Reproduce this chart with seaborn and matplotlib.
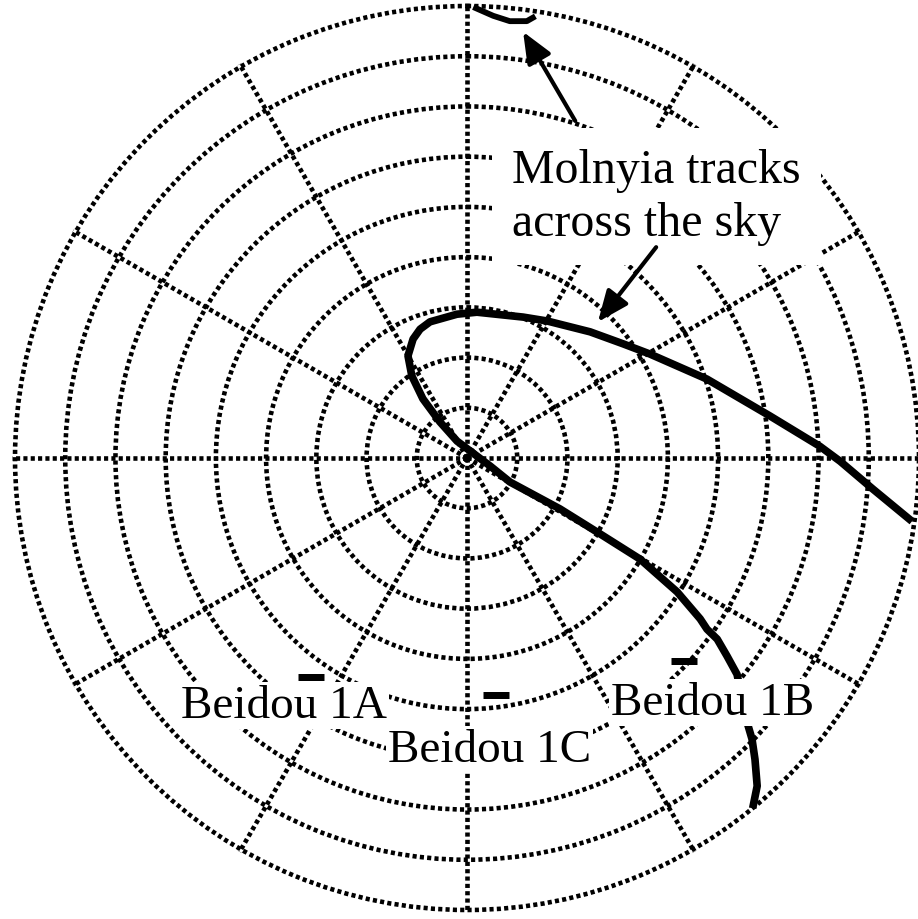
import numpy as np
import matplotlib.pyplot as plt
import seaborn as sns

# sky plot: azimuth (deg, clockwise from north) and elevation (deg)
# main Molnyia track, from the east horizon round the loop to the south-east horizon
molnyia_az = [98.1, 94.4, 90.5, 88.1, 82.1, 71.8, 60.4, 53.8, 44.3, 30.3, 21.7, 3.9,
              -4.0, -15.2, -20.0, -24.4, -30.0, -33.9, -36.7, -36.9, -30.5,
              109.2, 119.2, 118.7, 119.7, 120.3, 122.5, 124.6, 125.5, 125.9, 127.3, 128.7,
              133.3, 134.6, 136.3, 138.5, 140.8]
molnyia_el = [0.5, 8.9, 15.7, 19.7, 29.1, 39.7, 48.1, 51.5, 54.9, 58.4, 59.8, 60.9,
              61.3, 61.9, 62.7, 64.0, 66.5, 70.3, 75.3, 81.0, 86.1,
              85.1, 80.2, 68.9, 59.5, 50.1, 40.4, 33.6, 31.3, 28.5, 24.9, 21.1,
              13.4, 10.3, 7.0, 2.8, 0.0]

# short piece of track near the northern horizon
north_az = [0.8, 3.4, 5.6, 7.8, 8.8]
north_el = [0.2, 1.8, 2.6, 2.2, 1.0]

# Beidou geostationary satellites
beidou_names = ['Beidou 1A', 'Beidou 1B', 'Beidou 1C']
beidou_az = [215.5, 133.1, 173.0]
beidou_el = [36.5, 30.8, 42.5]

# arrows from the caption to the tracks
arrow_tip_az = [7.5, 43.9]
arrow_tip_el = [4.4, 52.4]
arrow_tail_az = [17.8, 41.9]
arrow_tail_el = [19.5, 33.6]

caption = 'Molnyia tracks\nacross the sky'


def to_polar(az, el):
    # zenith distance is the radius of the sky plot
    return np.radians(az), 90 - np.asarray(el)


sns.set_theme(style='white')
plt.rcParams['font.family'] = ['Liberation Serif', 'DejaVu Serif']
plt.rcParams['text.color'] = 'black'

fig = plt.figure(figsize=(9.18, 9.2), dpi=100)
ax = fig.add_axes([12 / 918, 6 / 920, 910 / 918, 910 / 920], projection='polar')
ax.set_theta_zero_location('N')
ax.set_theta_direction(-1)
ax.set_ylim(0, 90.6)
ax.set_xticks(np.radians(np.arange(0, 360, 30)))
ax.set_yticks(np.arange(10, 100, 10))
ax.set_xticklabels([])
ax.set_yticklabels([])
ax.tick_params(length=0)
ax.spines['polar'].set_visible(False)
ax.set_facecolor('white')

# dotted sky grid: elevation rings every 10 deg, azimuth spokes every 30 deg
for gl in ax.xaxis.get_gridlines() + ax.yaxis.get_gridlines():
    gl.set_visible(True)
    gl.set_color('black')
    gl.set_linewidth(3.3)
    gl.set_linestyle((0, (0.9, 0.7)))
    gl.set_dash_capstyle('butt')

th, r = to_polar(molnyia_az, molnyia_el)
sns.lineplot(x=th, y=r, sort=False, estimator=None, color='black', linewidth=5.5,
             solid_capstyle='butt', solid_joinstyle='round', ax=ax)

th, r = to_polar(north_az, north_el)
sns.lineplot(x=th, y=r, sort=False, estimator=None, color='black', linewidth=4.2,
             solid_capstyle='butt', solid_joinstyle='round', ax=ax)

th, r = to_polar(beidou_az, beidou_el)
sns.scatterplot(x=th, y=r, marker='_', s=330, linewidth=5, color='black', ax=ax, zorder=3)

# labels (white boxes hide the grid behind them)
label_pos = {'Beidou 1A': (181, 718), 'Beidou 1B': (611, 715), 'Beidou 1C': (388, 762)}
for name in beidou_names:
    x, y = label_pos[name]
    ax.text(x / 918, 1 - y / 920, name, transform=fig.transFigure, fontsize=34,
            color='black', ha='left', va='baseline', zorder=4,
            bbox=dict(boxstyle='square,pad=0.05', fc='white', ec='none'))

ax.text(512 / 918, 1 - 149 / 920, caption, transform=fig.transFigure, fontsize=34.5,
        color='black', ha='left', va='top', multialignment='left', linespacing=1.25,
        zorder=4, bbox=dict(boxstyle='square,pad=0.42', fc='white', ec='none'))

tip_th, tip_r = to_polar(arrow_tip_az, arrow_tip_el)
tail_th, tail_r = to_polar(arrow_tail_az, arrow_tail_el)
for i in range(len(tip_th)):
    ax.annotate('', xy=(tip_th[i], tip_r[i]), xytext=(tail_th[i], tail_r[i]),
                arrowprops=dict(arrowstyle='-|>,head_length=0.95,head_width=0.4',
                                mutation_scale=20, lw=3, color='black',
                                shrinkA=0, shrinkB=0),
                zorder=5)

fig.savefig('out.png', dpi=100, facecolor='white')
